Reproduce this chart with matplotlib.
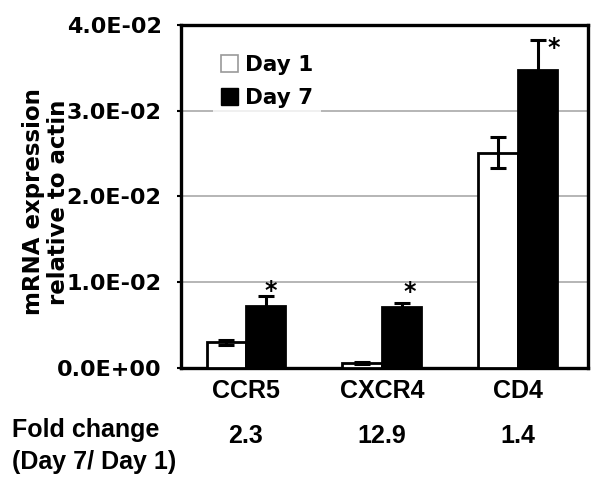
import matplotlib
matplotlib.use("Agg")
import matplotlib.pyplot as plt
from matplotlib.patches import Patch
from matplotlib.ticker import FuncFormatter, MultipleLocator
import numpy as np

categories = ["CCR5", "CXCR4", "CD4"]
day1 = [0.0030, 0.0006, 0.0251]
day1_err = [0.0003, 0.0001, 0.0018]
day7 = [0.0072, 0.0071, 0.0348]
day7_err = [0.0012, 0.0005, 0.0035]
fold_change = ["2.3", "12.9", "1.4"]
star_y = [0.0090, 0.0089, 0.0373]
series_labels = ["Day 1", "Day 7"]

fig = plt.figure(figsize=(6.0, 4.87), dpi=100)
ax = fig.add_axes([0.3017, 0.2444, 0.678, 0.7043])

x = np.arange(len(categories))
w = 0.29
bold_arial = dict(family="Liberation Sans", weight="bold")
bold_dv = dict(family="DejaVu Sans", weight="bold")
FP = matplotlib.font_manager.FontProperties

ax.bar(x - w / 2, day1, w, color="white", edgecolor="black", linewidth=2.0, zorder=3)
ax.bar(x + w / 2, day7, w, color="black", edgecolor="black", linewidth=2.0, zorder=3)
ax.errorbar(x - w / 2, day1, yerr=day1_err, fmt="none", ecolor="black",
            elinewidth=2.2, capsize=5.5, capthick=2.2, zorder=4)
ax.errorbar(x + w / 2, day7, yerr=day7_err, fmt="none", ecolor="black",
            elinewidth=2.2, capsize=5.5, capthick=2.2, zorder=4)

star_dx = [0.04, 0.06, 0.12]
for i in range(len(categories)):
    ax.text(x[i] + w / 2 + star_dx[i], star_y[i], "*", ha="center", va="center",
            fontsize=17, zorder=5, **bold_dv)

ax.set_xlim(-0.478, 2.515)
ax.set_ylim(0, 0.04)
ax.yaxis.set_major_locator(MultipleLocator(0.01))
ax.yaxis.set_major_formatter(FuncFormatter(lambda v, p: "%.1E" % v))
ax.set_axisbelow(True)
ax.grid(axis="y", color="#b0b0b0", linewidth=1.3)
ax.grid(axis="x", visible=False)

for s in ax.spines.values():
    s.set_linewidth(2.4)
    s.set_color("black")

ax.set_xticks(x)
ax.set_xticklabels(categories)
ax.tick_params(axis="x", length=0, pad=8)
ax.tick_params(axis="y", length=3, width=1.5, pad=11, direction="out")
for lab in ax.get_xticklabels():
    lab.set_fontproperties(FP(size=18, **bold_arial))
for lab in ax.get_yticklabels():
    lab.set_fontproperties(FP(size=16, **bold_dv))

fig.text(46 / 600, 1 - 202 / 487, "mRNA expression\nrelative to actin", rotation=90,
         ha="center", va="center", multialignment="center", fontsize=16.5,
         linespacing=1.12, **bold_dv)

handles = [Patch(facecolor="white", edgecolor="#999999", linewidth=1.2),
           Patch(facecolor="black", edgecolor="black")]
leg = ax.legend(handles, series_labels, loc="upper left", bbox_to_anchor=(0.079, 0.935),
                frameon=True, fancybox=False, borderpad=0.35, borderaxespad=0,
                handlelength=0.8, handleheight=0.85, handletextpad=0.35,
                labelspacing=0.6, prop=FP(size=15.5, **bold_dv))
leg.get_frame().set_facecolor("white")
leg.get_frame().set_edgecolor("none")
leg.set_zorder(6)

trans = matplotlib.transforms.blended_transform_factory(ax.transData, fig.transFigure)
for i, fc in enumerate(fold_change):
    ax.text(x[i], 1 - 436 / 487, fc, transform=trans, ha="center", va="center",
            fontsize=18, **bold_arial)

fig.text(12 / 600, 1 - 430 / 487, "Fold change", ha="left", va="center", fontsize=18, **bold_arial)
fig.text(12 / 600, 1 - 462 / 487, "(Day 7/ Day 1)", ha="left", va="center", fontsize=18, **bold_arial)

fig.savefig("out.png", dpi=100)
